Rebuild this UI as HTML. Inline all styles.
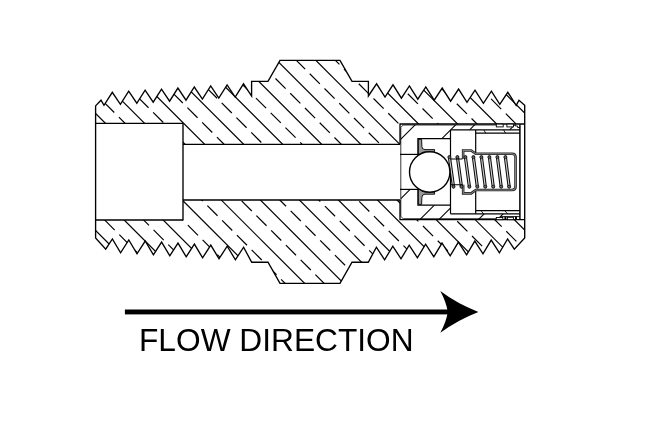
<!DOCTYPE html>
<html><head><meta charset="utf-8"><title>Flow Direction</title>
<style>
html,body{margin:0;padding:0;background:#fff;}
body{width:650px;height:425px;position:relative;overflow:hidden;font-family:"Liberation Sans",sans-serif;}
svg{position:absolute;left:0;top:0;display:block;}
.t{position:absolute;left:138.9px;top:322.2px;font-size:31.7px;line-height:36px;color:#000;white-space:nowrap;letter-spacing:0px;will-change:transform;}
</style></head><body>
<svg width="650" height="425" viewBox="0 0 650 425">
<defs>
<clipPath id="cb"><path clip-rule="evenodd" d="M95.6,105.9 L101,100.2 L104,105.3 L112.3,92.3 L120.4,104.27 L128.7,91.24 L136.8,103.24 L145.1,90.18 L153.2,102.21 L161.5,89.12 L169.6,101.18 L177.9,88.06 L186,100.15 L194.3,87 L202.4,99.12 L210.7,85.94 L218.8,98.09 L227.1,84.88 L235.2,97.06 L243.5,83.82 L251.6,96 L251.6,81.4 L268,81.4 L280,60.4 L340,60.4 L352,81.4 L368.4,81.4 L368.4,96 L376.6,83.8 L385,97.1 L393,84.86 L401.4,98.13 L409.4,85.92 L417.8,99.16 L425.8,86.98 L434.2,100.19 L442.2,88.04 L450.6,101.22 L458.6,89.1 L467,102.25 L475,90.16 L483.4,103.28 L491.4,91.22 L499.8,104.31 L507.8,92.28 L516.2,105.34 L519,100.2 L524.7,105.3 L524.7,237.9 L514.3,249.2 L507.6,239 L499.4,252.8 L491.2,240.03 L483,253.8 L474.8,241.06 L466.6,254.8 L458.4,242.09 L450.2,255.8 L442,243.12 L433.8,256.8 L425.6,244.15 L417.4,257.8 L409.2,245.18 L401,258.8 L392.8,246.21 L384.6,259.8 L376.4,247.2 L368.3,262.2 L352,262.2 L340,283.3 L280,283.3 L268,262.2 L251.7,262.2 L243.6,247.2 L235.4,259.8 L227.2,246.17 L219,258.8 L210.8,245.14 L202.6,257.8 L194.4,244.11 L186.2,256.8 L178,243.08 L169.8,255.8 L161.6,242.05 L153.4,254.8 L145.2,241.02 L137,253.8 L128.8,239.99 L120.6,252.8 L112.4,238.96 L105.7,249.2 L95.6,237.9 Z M95.6,123.4 L183,123.4 L183,144.4 L400,144.4 L400,124 L524.7,124 L524.7,219.7 L400,219.7 L400,200 L183,200 L183,220 L95.6,220 Z"/></clipPath>
<clipPath id="cc"><path clip-rule="evenodd" d="M400.8,124.8 L520,124.8 L520,219 L400.8,219 Z M400.8,154.4 L417.9,154.4 L417.9,138.6 L450.5,138.6 L450.5,129.8 L520,129.8 L520,214 L450.5,214 L450.5,205.2 L417.9,205.2 L417.9,189.4 L400.8,189.4 Z"/></clipPath>
</defs>
<rect width="650" height="425" fill="#fff"/>
<g clip-path="url(#cb)" stroke="#000" stroke-width="1.2" fill="none">
<path d="M-86.97,86.97 L126.06,300"/>
<path d="M-77.21,77.21 L145.58,300" stroke-dasharray="14.35 6.51"/>
<path d="M-67.45,67.45 L165.1,300"/>
<path d="M-57.69,57.69 L184.62,300" stroke-dasharray="14.35 6.51"/>
<path d="M-47.93,47.93 L204.14,300"/>
<path d="M-38.17,38.17 L223.66,300" stroke-dasharray="14.35 6.51"/>
<path d="M-28.41,28.41 L243.18,300"/>
<path d="M-18.65,18.65 L262.7,300" stroke-dasharray="14.35 6.51"/>
<path d="M-8.89,8.89 L282.22,300"/>
<path d="M0.87,-0.87 L301.74,300" stroke-dasharray="14.35 6.51"/>
<path d="M10.63,-10.63 L321.26,300"/>
<path d="M20.39,-20.39 L340.78,300" stroke-dasharray="14.35 6.51"/>
<path d="M30.15,-30.15 L360.3,300"/>
<path d="M39.91,-39.91 L379.82,300" stroke-dasharray="14.35 6.51"/>
<path d="M49.67,-49.67 L399.34,300"/>
<path d="M59.43,-59.43 L418.86,300" stroke-dasharray="14.35 6.51"/>
<path d="M69.19,-69.19 L438.38,300"/>
<path d="M78.95,-78.95 L457.9,300" stroke-dasharray="14.35 6.51"/>
<path d="M88.71,-88.71 L477.42,300"/>
<path d="M98.47,-98.47 L496.94,300" stroke-dasharray="14.35 6.51"/>
<path d="M108.23,-108.23 L516.46,300"/>
<path d="M117.99,-117.99 L535.98,300" stroke-dasharray="14.35 6.51"/>
<path d="M127.75,-127.75 L555.5,300"/>
<path d="M137.51,-137.51 L575.02,300" stroke-dasharray="14.35 6.51"/>
<path d="M147.27,-147.27 L594.54,300"/>
<path d="M157.03,-157.03 L614.06,300" stroke-dasharray="14.35 6.51"/>
<path d="M166.79,-166.79 L633.58,300"/>
<path d="M176.55,-176.55 L653.1,300" stroke-dasharray="14.35 6.51"/>
<path d="M186.31,-186.31 L672.62,300"/>
<path d="M196.07,-196.07 L692.14,300" stroke-dasharray="14.35 6.51"/>
<path d="M205.83,-205.83 L711.66,300"/>
<path d="M215.59,-215.59 L731.18,300" stroke-dasharray="14.35 6.51"/>
<path d="M225.35,-225.35 L750.7,300"/>
<path d="M235.11,-235.11 L770.22,300" stroke-dasharray="14.35 6.51"/>
</g>
<g clip-path="url(#cc)" stroke="#000" stroke-width="1.1" fill="none">
<path d="M290.5,230 L410.5,110"/>
<path d="M310,230 L430,110"/>
<path d="M350.5,230 L470.5,110"/>
<path d="M369.5,230 L489.5,110"/>
<path d="M409.5,230 L529.5,110"/>
<path d="M428.5,230 L548.5,110"/>
<path d="M468,230 L588,110"/>
<path d="M487,230 L607,110"/>
<path d="M527,230 L647,110"/>
</g>
<g stroke="#000" stroke-width="1.35" fill="none" stroke-linejoin="miter" stroke-linecap="butt">
<path d="M95.6,105.9 L101,100.2 L104,105.3 L112.3,92.3 L120.4,104.27 L128.7,91.24 L136.8,103.24 L145.1,90.18 L153.2,102.21 L161.5,89.12 L169.6,101.18 L177.9,88.06 L186,100.15 L194.3,87 L202.4,99.12 L210.7,85.94 L218.8,98.09 L227.1,84.88 L235.2,97.06 L243.5,83.82 L251.6,96 L251.6,81.4 L268,81.4 L280,60.4 L340,60.4 L352,81.4 L368.4,81.4 L368.4,96 L376.6,83.8 L385,97.1 L393,84.86 L401.4,98.13 L409.4,85.92 L417.8,99.16 L425.8,86.98 L434.2,100.19 L442.2,88.04 L450.6,101.22 L458.6,89.1 L467,102.25 L475,90.16 L483.4,103.28 L491.4,91.22 L499.8,104.31 L507.8,92.28 L516.2,105.34 L519,100.2 L524.7,105.3 L524.7,237.9 L514.3,249.2 L507.6,239 L499.4,252.8 L491.2,240.03 L483,253.8 L474.8,241.06 L466.6,254.8 L458.4,242.09 L450.2,255.8 L442,243.12 L433.8,256.8 L425.6,244.15 L417.4,257.8 L409.2,245.18 L401,258.8 L392.8,246.21 L384.6,259.8 L376.4,247.2 L368.3,262.2 L352,262.2 L340,283.3 L280,283.3 L268,262.2 L251.7,262.2 L243.6,247.2 L235.4,259.8 L227.2,246.17 L219,258.8 L210.8,245.14 L202.6,257.8 L194.4,244.11 L186.2,256.8 L178,243.08 L169.8,255.8 L161.6,242.05 L153.4,254.8 L145.2,241.02 L137,253.8 L128.8,239.99 L120.6,252.8 L112.4,238.96 L105.7,249.2 L95.6,237.9 Z"/>
<path d="M95.6,123.4 L183,123.4 M95.6,220 L183,220 M183,123.4 L183,220"/>
<path d="M183,144.4 L400,144.4 M183,200 L400,200"/>
<path stroke-width="1.3" d="M524.7,124 L400,124 L400,144.4 M400,200 L400,219.7 L524.7,219.7"/>
</g>
<g stroke="#000" stroke-width="1.2" fill="none">
<path stroke-width="0.8" d="M403.2,125.0 L496,125.0 M400.8,127.4 L400.8,216.4 M403.2,218.7 L496,218.7 M400.8,127.4 L403.2,125.0 M400.8,216.4 L403.2,218.7"/>
<path stroke-width="1.5" d="M519.9,124.6 L519.9,219.2"/>
<path d="M400,154.4 L419.5,154.4"/>
<path d="M417.9,154.4 L417.9,138.6 L450.5,138.6"/>
<path d="M450.5,129.9 L519.9,129.9"/>
<path d="M475.7,133.2 L519.9,133.2"/>
<path d="M400,189.4 L419.5,189.4"/>
<path d="M417.9,189.4 L417.9,205.2 L450.5,205.2"/>
<path d="M450.5,213.9 L519.9,213.9"/>
<path d="M475.7,210.6 L519.9,210.6"/>
<path stroke-width="0.9" d="M483.8,130 L485.8,133.2 M503.6,130 L505.6,133.2 M481,210.6 L483.6,213.9 M504.6,210.6 L507.6,213.9"/>
<rect x="496.3" y="124.1" width="6.9" height="2.8" fill="#fff" stroke-width="0.9"/>
<rect x="506.9" y="124.1" width="6.5" height="2.8" fill="#fff" stroke-width="0.9"/>
<path stroke-width="0.9" d="M515.4,124.4 L515.4,126 L517.6,126 L517.6,127.5 L519.9,127.5"/>
<path stroke-width="0.9" d="M500.5,216.6 L519.9,216.6"/>
<rect x="496.3" y="217.5" width="6.5" height="2.2" fill="#fff" stroke-width="0.9"/>
<rect x="507.4" y="217.3" width="6.0" height="2.4" fill="#fff" stroke-width="0.9"/>
<path stroke-width="2" d="M505.4,216.6 L505.4,219.6 M516,216.6 L516,219.6"/>
<path d="M450.5,130 L450.5,213.8 M475.7,130 L475.7,153 M475.7,190.8 L475.7,213.8"/>
</g>
<path stroke="#000" stroke-width="0.9" fill="#9a9a9a" d="M418.4,139.4 L421.6,139.4 L421.9,146.5 Q422,149.6 425,149.6 L434.6,149.6 L434.6,151.8 L425,151.8 Q421,152 420.6,154.2 L418.4,154.2 Z"/>
<path stroke="#000" stroke-width="0.9" fill="#9a9a9a" d="M418.4,204.4 L421.6,204.4 L421.9,197.3 Q422,194.2 425,194.2 L434.6,194.2 L434.6,192 L425,192 Q421,191.8 420.6,189.6 L418.4,189.6 Z"/>
<path d="M463.15,159 L463.15,150.45 L471.1,150.45 L475.8,153.75 L512.1,153.75 Q515.55,153.75 515.55,157.2 L515.55,186.6 Q515.55,190.05 512.1,190.05 L475.8,190.05 L471.1,193.35 L463.15,193.35 L463.15,184.8" stroke="#222" stroke-width="2.6" fill="none"/>
<path d="M463.15,159 L463.15,150.45 L471.1,150.45 L475.8,153.75 L512.1,153.75 Q515.55,153.75 515.55,157.2 L515.55,186.6 Q515.55,190.05 512.1,190.05 L475.8,190.05 L471.1,193.35 L463.15,193.35 L463.15,184.8" stroke="#bbb" stroke-width="0.7" fill="none"/>
<path d="M449.4,157.1 L453.5,186.7" stroke="#0c0c0c" stroke-width="3.2" stroke-linecap="round"/>
<path d="M449.4,157.1 L453.5,186.7" stroke="#d6d6d6" stroke-width="1.1" stroke-linecap="round"/>
<circle cx="449.4" cy="157.1" r="1.5" fill="#666" stroke="#111" stroke-width="0.8"/>
<circle cx="453.5" cy="186.7" r="1.5" fill="#666" stroke="#111" stroke-width="0.8"/>
<path d="M457.4,157.1 L461.45,186.7" stroke="#0c0c0c" stroke-width="3.2" stroke-linecap="round"/>
<path d="M457.4,157.1 L461.45,186.7" stroke="#d6d6d6" stroke-width="1.1" stroke-linecap="round"/>
<circle cx="457.4" cy="157.1" r="1.5" fill="#666" stroke="#111" stroke-width="0.8"/>
<circle cx="461.45" cy="186.7" r="1.5" fill="#666" stroke="#111" stroke-width="0.8"/>
<path d="M465.4,157.1 L469.4,186.7" stroke="#0c0c0c" stroke-width="3.2" stroke-linecap="round"/>
<path d="M465.4,157.1 L469.4,186.7" stroke="#d6d6d6" stroke-width="1.1" stroke-linecap="round"/>
<circle cx="465.4" cy="157.1" r="1.5" fill="#666" stroke="#111" stroke-width="0.8"/>
<circle cx="469.4" cy="186.7" r="1.5" fill="#666" stroke="#111" stroke-width="0.8"/>
<path d="M473.4,157.1 L477.35,186.7" stroke="#0c0c0c" stroke-width="3.2" stroke-linecap="round"/>
<path d="M473.4,157.1 L477.35,186.7" stroke="#d6d6d6" stroke-width="1.1" stroke-linecap="round"/>
<circle cx="473.4" cy="157.1" r="1.5" fill="#666" stroke="#111" stroke-width="0.8"/>
<circle cx="477.35" cy="186.7" r="1.5" fill="#666" stroke="#111" stroke-width="0.8"/>
<path d="M481.4,157.1 L485.3,186.7" stroke="#0c0c0c" stroke-width="3.2" stroke-linecap="round"/>
<path d="M481.4,157.1 L485.3,186.7" stroke="#d6d6d6" stroke-width="1.1" stroke-linecap="round"/>
<circle cx="481.4" cy="157.1" r="1.5" fill="#666" stroke="#111" stroke-width="0.8"/>
<circle cx="485.3" cy="186.7" r="1.5" fill="#666" stroke="#111" stroke-width="0.8"/>
<path d="M489.4,157.1 L493.25,186.7" stroke="#0c0c0c" stroke-width="3.2" stroke-linecap="round"/>
<path d="M489.4,157.1 L493.25,186.7" stroke="#d6d6d6" stroke-width="1.1" stroke-linecap="round"/>
<circle cx="489.4" cy="157.1" r="1.5" fill="#666" stroke="#111" stroke-width="0.8"/>
<circle cx="493.25" cy="186.7" r="1.5" fill="#666" stroke="#111" stroke-width="0.8"/>
<path d="M497.4,157.1 L501.2,186.7" stroke="#0c0c0c" stroke-width="3.2" stroke-linecap="round"/>
<path d="M497.4,157.1 L501.2,186.7" stroke="#d6d6d6" stroke-width="1.1" stroke-linecap="round"/>
<circle cx="497.4" cy="157.1" r="1.5" fill="#666" stroke="#111" stroke-width="0.8"/>
<circle cx="501.2" cy="186.7" r="1.5" fill="#666" stroke="#111" stroke-width="0.8"/>
<path d="M505.4,157.1 L509.15,186.7" stroke="#0c0c0c" stroke-width="3.2" stroke-linecap="round"/>
<path d="M505.4,157.1 L509.15,186.7" stroke="#d6d6d6" stroke-width="1.1" stroke-linecap="round"/>
<circle cx="505.4" cy="157.1" r="1.5" fill="#666" stroke="#111" stroke-width="0.8"/>
<circle cx="509.15" cy="186.7" r="1.5" fill="#666" stroke="#111" stroke-width="0.8"/>
<path stroke="#000" stroke-width="1.1" fill="none" d="M450.5,159 L462.4,159 M450.5,184.8 L462.4,184.8"/>
<circle cx="429.7" cy="172" r="20.2" fill="#fff" stroke="#000" stroke-width="1.4"/>
<rect x="124.9" y="309.5" width="326" height="4.9" fill="#000"/>
<path d="M440.3,291.0 Q457,303.6 478.4,311.9 Q457,320.2 440.3,332.8 Q446.3,321.5 447.8,311.9 Q446.3,302.3 440.3,291.0 Z" fill="#000"/>
</svg>
<div class="t">FLOW DIRECTION</div>
</body></html>
